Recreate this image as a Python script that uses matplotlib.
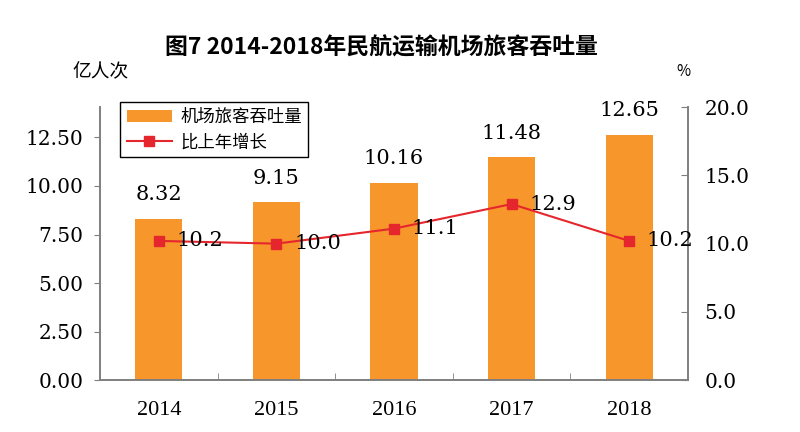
import matplotlib.pyplot as plt
import numpy as np

years = ["2014", "2015", "2016", "2017", "2018"]
passengers = [8.32, 9.15, 10.16, 11.48, 12.65]
growth = [10.2, 10.0, 11.1, 12.9, 10.2]

cjk = ["Noto Sans CJK SC", "DejaVu Sans"]
num = ["DejaVu Serif"]
yr = ["Liberation Serif", "DejaVu Serif"]
bar_color = "#F7962B"
line_color = "#E5262C"
axis_color = "#7F7F7F"

fig = plt.figure(figsize=(8, 4.32), dpi=100)
ax = fig.add_axes([0.125, 0.12, 0.735, 0.632])
ax2 = ax.twinx()

x = np.arange(len(years))
bars = ax.bar(x, passengers, width=0.4, color=bar_color, label="机场旅客吞吐量", zorder=2)
line, = ax2.plot(x, growth, color=line_color, lw=1.5, marker="s", markersize=7,
                 label="比上年增长", zorder=3)

ax.set_xlim(-0.5, 4.5)
ax.set_ylim(0, 14.06)
ax2.set_ylim(0, 20)
ax.set_yticks([0, 2.5, 5, 7.5, 10, 12.5])
ax.set_yticklabels([f"{v:.2f}" for v in [0, 2.5, 5, 7.5, 10, 12.5]],
                   fontfamily=num, fontsize=14.5)
ax2.set_yticks([0, 5, 10, 15, 20])
ax2.set_yticklabels([f"{v:.1f}" for v in [0, 5, 10, 15, 20]], fontfamily=num, fontsize=14.5)

ax.set_xticks(x)
ax.set_xticklabels(years, fontfamily=yr, fontsize=16)
ax.set_xticks(np.arange(-0.5, 5, 1)[1:-1], minor=True)
ax.tick_params(axis="x", which="major", length=0, pad=15)
ax.tick_params(axis="x", which="minor", direction="in", length=5, color=axis_color)
ax.tick_params(axis="y", direction="out", length=4, color=axis_color, pad=8)
ax2.tick_params(axis="y", direction="in", length=5, color=axis_color, pad=12)

for a in (ax, ax2):
    a.spines["top"].set_visible(False)
    for s in ("left", "right", "bottom"):
        a.spines[s].set_color(axis_color)
        a.spines[s].set_linewidth(1.2)

for xi, v in zip(x, passengers):
    ax.text(xi, v + 0.75, f"{v:.2f}", ha="center", va="bottom", fontfamily=num, fontsize=15)
for xi, v in zip(x, growth):
    ax2.text(xi + 0.15, v, f"{v:.1f}", ha="left", va="center", fontfamily=num, fontsize=15)

fig.text(0.477, 0.89, "图7 2014-2018年民航运输机场旅客吞吐量", ha="center", va="center",
         fontfamily=cjk, fontsize=16.5, fontweight="bold")
fig.text(0.09, 0.835, "亿人次", fontfamily=cjk, fontsize=13.5, va="center")
fig.text(0.846, 0.835, "%", fontfamily=cjk, fontsize=11, va="center")

leg = ax.legend([bars, line], ["机场旅客吞吐量", "比上年增长"], loc="upper left",
                bbox_to_anchor=(0.02, 1.05), prop={"family": cjk, "size": 12.5},
                frameon=True, fancybox=False, edgecolor="black", framealpha=1,
                handlelength=2.6, borderpad=0.35, labelspacing=0.4, handletextpad=0.5)
leg.get_frame().set_linewidth(1.0)
leg.set_zorder(5)

fig.savefig("out.png", dpi=100)
